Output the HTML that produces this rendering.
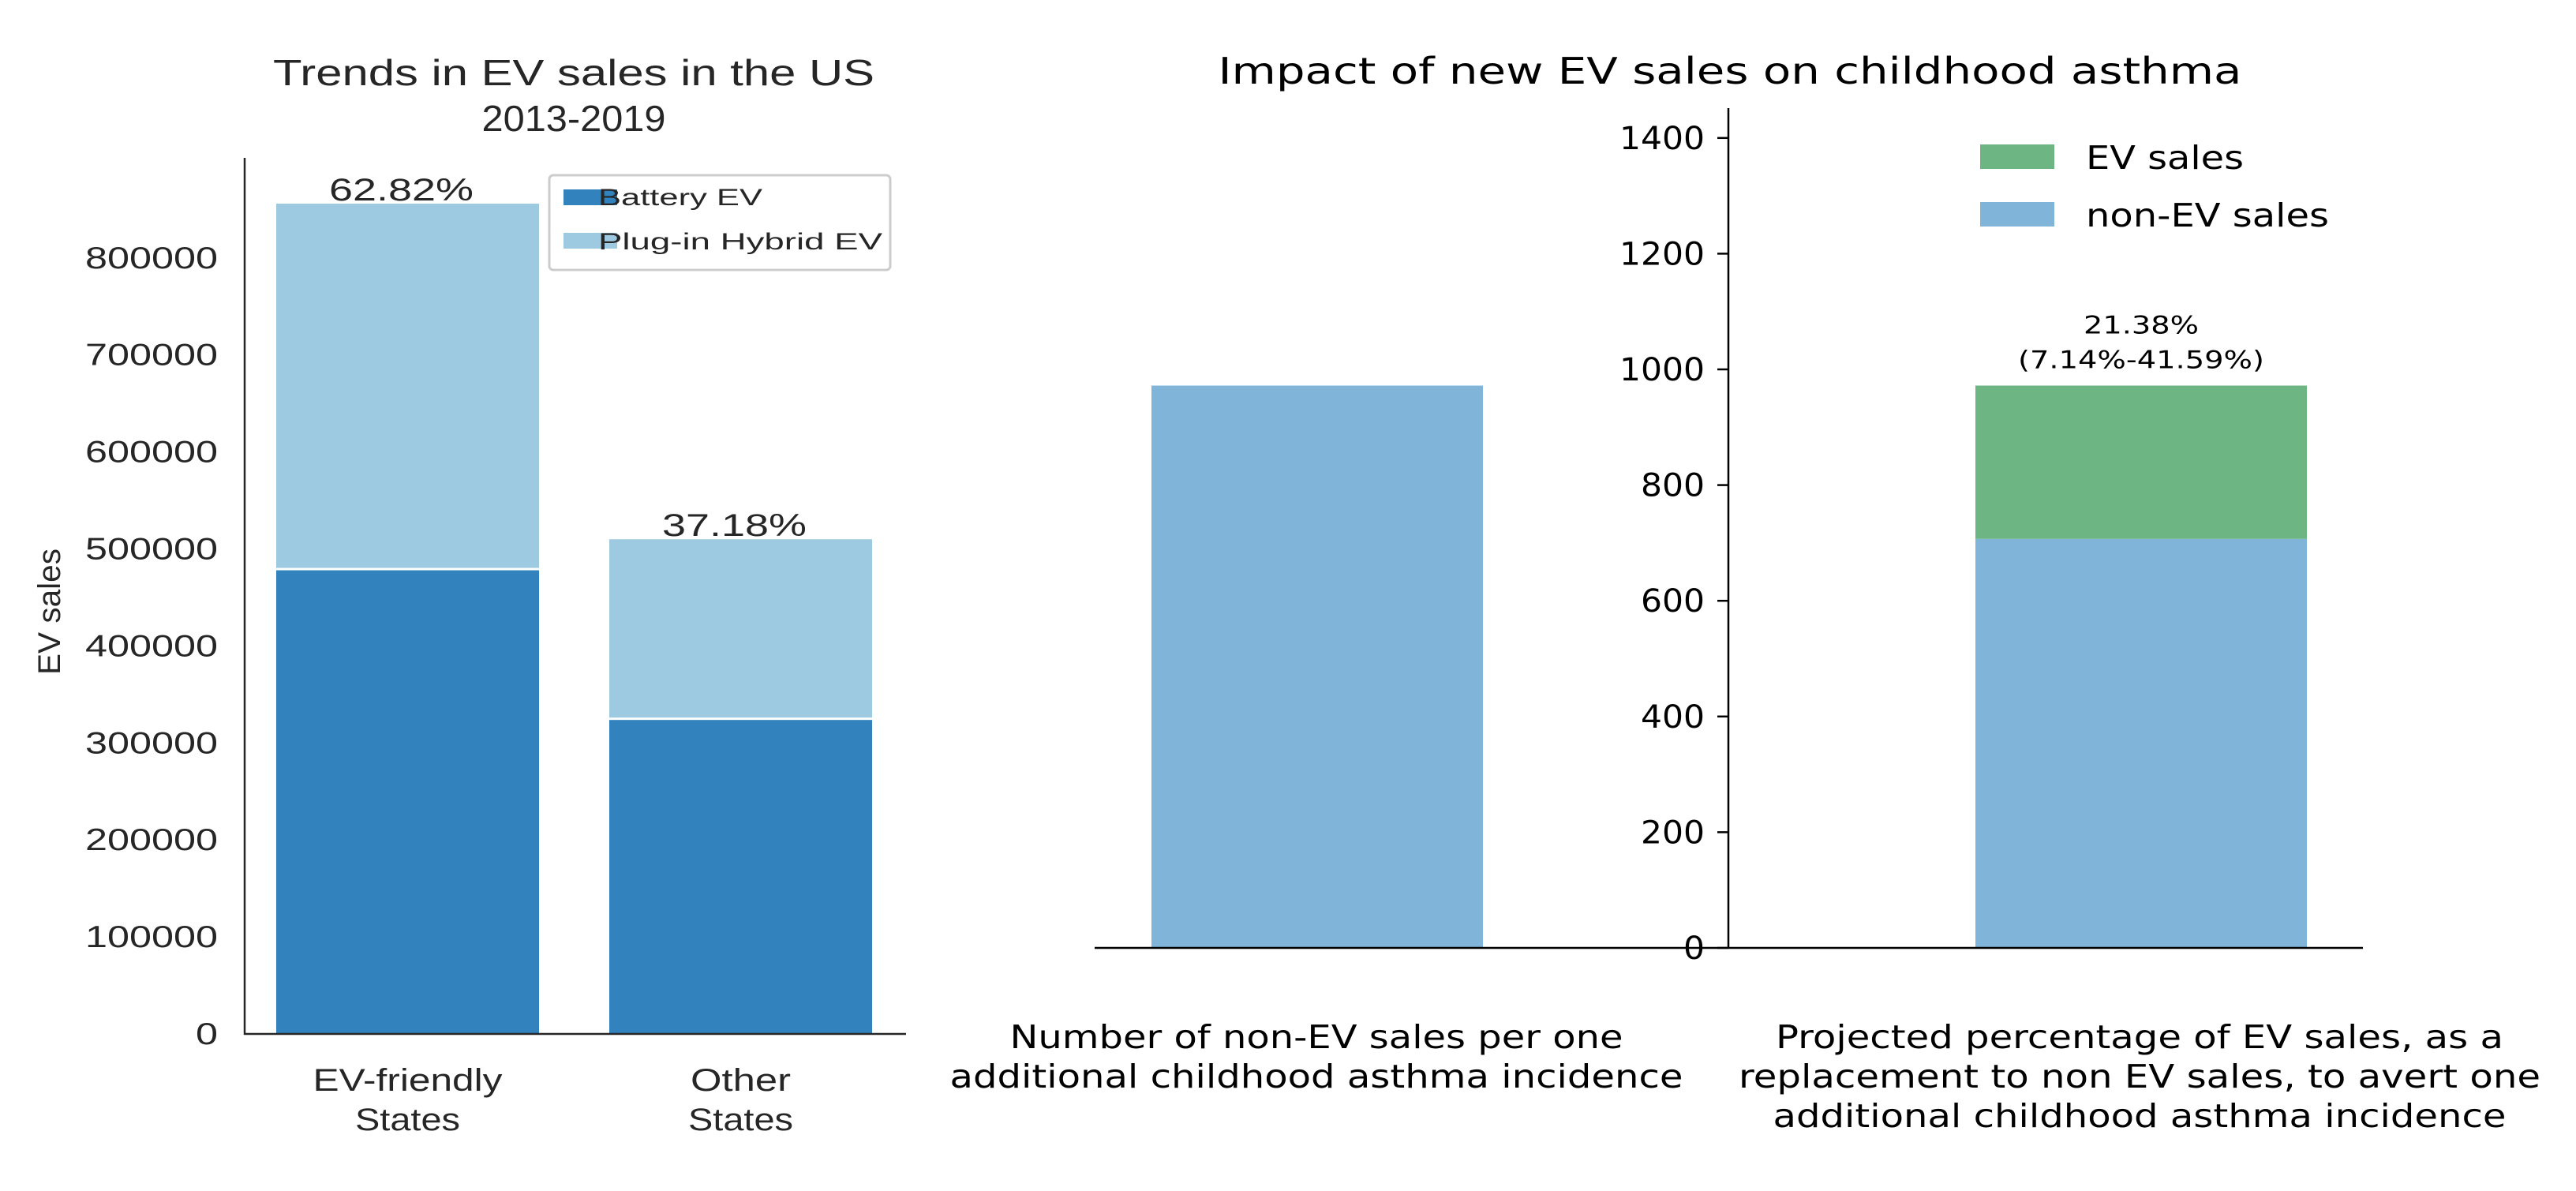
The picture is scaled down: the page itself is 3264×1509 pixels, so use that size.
<!DOCTYPE html>
<html><head><meta charset="utf-8"><style>
html,body{margin:0;padding:0;background:#fff;}
svg{display:block;}
.l{font-family:"Liberation Sans",Arial,sans-serif;fill:#262626;}
.r{font-family:"DejaVu Sans",sans-serif;fill:#000;}
</style></head><body>
<svg id="c" width="3264" height="1509" viewBox="0 0 3264 1509" xmlns="http://www.w3.org/2000/svg"></svg>
<script>
const leftCats = ["EV-friendly|States", "Other|States"];
const batteryEV = [478000, 323700];
const plugInEV = [378000, 186300];
const leftPct = ["62.82%", "37.18%"];
const leftTicks = [0,100000,200000,300000,400000,500000,600000,700000,800000];

const rightCats = ["Number of non-EV sales per one|additional childhood asthma incidence",
  "Projected percentage of EV sales, as a|replacement to non EV sales, to avert one|additional childhood asthma incidence"];
const nonEV = [972, 707];
const evSales = [0, 265];
const rightTicks = [0,200,400,600,800,1000,1200,1400];
const rightAnnot = ["", "21.38%|(7.14%-41.59%)"];

const svg = document.getElementById('c');
const NS = 'http://www.w3.org/2000/svg';
function mk(tag, attrs, parent, text){const e=document.createElementNS(NS,tag);for(const k in attrs)e.setAttribute(k,attrs[k]);if(text!==undefined)e.textContent=text;(parent||svg).appendChild(e);return e;}
function fit(e,w){e.setAttribute('textLength',w);e.setAttribute('lengthAdjust','spacingAndGlyphs');}
const widthMap = {
 "EV-friendly":240,"States":133,"Other":127,
 "Number of non-EV sales per one":777,"additional childhood asthma incidence":929,
 "Projected percentage of EV sales, as a":922,"replacement to non EV sales, to avert one":1016,
 "21.38%":146,"(7.14%-41.59%)":312
};

// ---- Left chart ----
const gl = mk('g',{});  
const ly = v => 1310 - v/100000*122.9;
const lBarX = [350, 772], lBarW = 333;
let t = mk('text',{class:'l',x:727,y:108,'text-anchor':'middle','font-size':46},gl,'Trends in EV sales in the US');
fit(t,762);
 
t = mk('text',{class:'l',x:727,y:166,'text-anchor':'middle','font-size':46},gl,'2013-2019');
fit(t,233);
 
leftCats.forEach((c,i)=>{
  const x=lBarX[i];
  let r=mk('rect',{x:x,y:ly(batteryEV[i]),width:lBarW,height:ly(0)-ly(batteryEV[i]),fill:'#3182bd'},gl);
   
  const top=batteryEV[i]+plugInEV[i];
  r=mk('rect',{x:x,y:ly(top),width:lBarW,height:ly(batteryEV[i])-ly(top)-3,fill:'#9ecae1'},gl);
   
  let p=mk('text',{class:'l',x:x+lBarW/2-8,y:ly(top)-4,'text-anchor':'middle','font-size':40},gl,leftPct[i]);
  fit(p,183);
   
  c.split('|').forEach((ln,j)=>{
    let q=mk('text',{class:'l',x:x+lBarW/2,y:1382+j*50,'text-anchor':'middle','font-size':40},gl,ln);
    if(widthMap[ln]) fit(q,widthMap[ln]);
     
  });
});
leftTicks.forEach(v=>{
  let q=mk('text',{class:'l',x:276,y:ly(v)+13,'text-anchor':'end','font-size':39},gl,String(v));
  fit(q,String(v).length*28);
   
});
let ax=mk('line',{x1:310,y1:200,x2:310,y2:1311,stroke:'#262626','stroke-width':2.5},gl);
 
ax=mk('line',{x1:309,y1:1310,x2:1148,y2:1310,stroke:'#262626','stroke-width':2.5},gl);
 
t=mk('text',{class:'l',x:0,y:0,'text-anchor':'middle','font-size':40,transform:'translate(76,775) rotate(-90)'},gl,'EV sales');
fit(t,160);
 
const lg=mk('g',{},gl);  
mk('rect',{x:696,y:222,width:432,height:120,rx:5,fill:'#fff',stroke:'#ccc','stroke-width':3},lg);
mk('rect',{x:714,y:240,width:68,height:20,fill:'#3182bd'},lg);
mk('rect',{x:714,y:295,width:68,height:20,fill:'#9ecae1'},lg);
t=mk('text',{class:'l',x:758,y:260,'font-size':30},lg,'Battery EV'); fit(t,208);
t.setAttribute('x',758+0);  
t=mk('text',{class:'l',x:758,y:316,'font-size':30},lg,'Plug-in Hybrid EV'); fit(t,360);
 

// ---- Right chart ----
const gr = mk('g',{});  
const ry = v => 1201 - v/200*146.6;
const rBarX=[1459,2503], rBarW=420;
t=mk('text',{class:'r',x:2192,y:106,'text-anchor':'middle','font-size':46},gr,'Impact of new EV sales on childhood asthma');
fit(t,1297);
 
rightCats.forEach((c,i)=>{
  const x=rBarX[i];
  let r=mk('rect',{x:x,y:ry(nonEV[i]),width:rBarW,height:ry(0)-ry(nonEV[i]),fill:'#80b5d9'},gr);
   
  if(evSales[i]>0){
    r=mk('rect',{x:x,y:ry(nonEV[i]+evSales[i]),width:rBarW,height:ry(nonEV[i])-ry(nonEV[i]+evSales[i]),fill:'#6db683'},gr);
     
  }
  if(rightAnnot[i]){
    const lines=rightAnnot[i].split('|');
    const top=ry(nonEV[i]+evSales[i]);
    lines.forEach((ln,j)=>{
      let q=mk('text',{class:'r',x:x+rBarW/2,y:top-66+j*44,'text-anchor':'middle','font-size':31},gr,ln);
      if(widthMap[ln]) fit(q,widthMap[ln]);
       
    });
  }
  c.split('|').forEach((ln,j)=>{
    let q=mk('text',{class:'r',x:(i?2711:1668),y:1328+j*50,'text-anchor':'middle','font-size':41},gr,ln);
    if(widthMap[ln]) fit(q,widthMap[ln]);
     
  });
});
rightTicks.forEach(v=>{
  let q=mk('text',{class:'r',x:2160,y:ry(v)+14,'text-anchor':'end','font-size':40},gr,String(v));
  fit(q,String(v).length*27);
   
  let l=mk('line',{x1:2176,y1:ry(v),x2:2190,y2:ry(v),stroke:'#000','stroke-width':2.5},gr);
   
});
ax=mk('line',{x1:2190,y1:137,x2:2190,y2:1202,stroke:'#000','stroke-width':2.5},gr);
 
ax=mk('line',{x1:1387,y1:1201,x2:2994,y2:1201,stroke:'#000','stroke-width':2.5},gr);
 
const rg=mk('g',{},gr);  
mk('rect',{x:2509,y:183,width:94,height:31,fill:'#6db683'},rg);
mk('rect',{x:2509,y:256,width:94,height:31,fill:'#80b5d9'},rg);
t=mk('text',{class:'r',x:2643,y:214,'font-size':41},rg,'EV sales'); fit(t,200);
 
t=mk('text',{class:'r',x:2643,y:287,'font-size':41},rg,'non-EV sales'); fit(t,308);
 
</script>
</body></html>
